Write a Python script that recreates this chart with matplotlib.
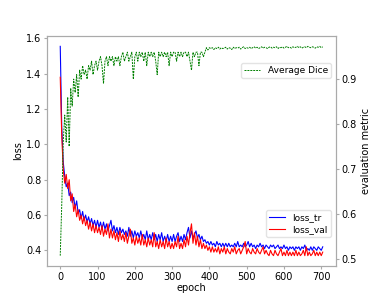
import numpy as np
import matplotlib
matplotlib.use('Agg')
import matplotlib.pyplot as plt

# values read every 4 epochs
loss_tr = [
    1.555, 1.10, 0.90, 0.82, 0.76, 0.78, 0.71, 0.73, 0.67, 0.70,
    0.64, 0.68, 0.61, 0.63, 0.58, 0.62, 0.57, 0.60, 0.56, 0.59,
    0.55, 0.58, 0.54, 0.57, 0.53, 0.57, 0.53, 0.56, 0.52, 0.56,
    0.52, 0.55, 0.51, 0.54, 0.57, 0.51, 0.54, 0.50, 0.53, 0.49,
    0.53, 0.50, 0.52, 0.49, 0.51, 0.48, 0.53, 0.48, 0.51, 0.47,
    0.51, 0.48, 0.50, 0.47, 0.51, 0.47, 0.49, 0.46, 0.51, 0.46,
    0.49, 0.46, 0.50, 0.46, 0.49, 0.45, 0.49, 0.46, 0.50, 0.45,
    0.48, 0.45, 0.49, 0.45, 0.48, 0.45, 0.49, 0.45, 0.48, 0.50,
    0.45, 0.48, 0.45, 0.49, 0.46, 0.50, 0.53, 0.47, 0.51, 0.47,
    0.49, 0.51, 0.47, 0.49, 0.46, 0.48, 0.45, 0.46, 0.44, 0.45,
    0.43, 0.45, 0.43, 0.44, 0.42, 0.45, 0.43, 0.44, 0.42, 0.44,
    0.42, 0.44, 0.42, 0.44, 0.42, 0.43, 0.42, 0.44, 0.42, 0.45,
    0.42, 0.43, 0.42, 0.44, 0.42, 0.43, 0.45, 0.42, 0.44, 0.42,
    0.43, 0.41, 0.43, 0.42, 0.44, 0.42, 0.43, 0.41, 0.43, 0.42,
    0.41, 0.43, 0.42, 0.43, 0.41, 0.42, 0.43, 0.41, 0.42, 0.41,
    0.43, 0.41, 0.42, 0.40, 0.42, 0.41, 0.42, 0.40, 0.42, 0.41,
    0.42, 0.40, 0.42, 0.41, 0.43, 0.40, 0.41, 0.40, 0.42, 0.40,
    0.42, 0.41, 0.40, 0.42, 0.41, 0.40, 0.42,
]

loss_val = [
    1.38, 1.05, 0.86, 0.78, 0.83, 0.75, 0.80, 0.68, 0.72, 0.62,
    0.66, 0.59, 0.63, 0.57, 0.60, 0.55, 0.59, 0.54, 0.57, 0.52,
    0.56, 0.51, 0.55, 0.50, 0.54, 0.50, 0.53, 0.49, 0.54, 0.48,
    0.52, 0.49, 0.55, 0.47, 0.52, 0.47, 0.51, 0.46, 0.50, 0.45,
    0.51, 0.46, 0.49, 0.45, 0.50, 0.44, 0.48, 0.52, 0.44, 0.47,
    0.43, 0.48, 0.44, 0.47, 0.43, 0.49, 0.43, 0.46, 0.42, 0.47,
    0.43, 0.46, 0.42, 0.50, 0.42, 0.45, 0.41, 0.46, 0.42, 0.45,
    0.41, 0.47, 0.42, 0.45, 0.41, 0.44, 0.41, 0.45, 0.42, 0.48,
    0.41, 0.44, 0.41, 0.46, 0.42, 0.48, 0.43, 0.50, 0.55, 0.44,
    0.50, 0.43, 0.48, 0.42, 0.46, 0.41, 0.44, 0.41, 0.43, 0.40,
    0.42, 0.39, 0.42, 0.39, 0.41, 0.39, 0.42, 0.38, 0.41, 0.39,
    0.42, 0.38, 0.41, 0.39, 0.38, 0.41, 0.39, 0.42, 0.38, 0.40,
    0.41, 0.38, 0.40, 0.42, 0.45, 0.38, 0.41, 0.39, 0.38, 0.41,
    0.39, 0.38, 0.41, 0.39, 0.38, 0.40, 0.42, 0.38, 0.40, 0.38,
    0.37, 0.40, 0.38, 0.37, 0.40, 0.38, 0.37, 0.39, 0.41, 0.37,
    0.39, 0.37, 0.40, 0.37, 0.39, 0.37, 0.39, 0.37, 0.40, 0.37,
    0.39, 0.37, 0.38, 0.40, 0.37, 0.42, 0.37, 0.39, 0.37, 0.38,
    0.40, 0.37, 0.39, 0.37, 0.39, 0.37, 0.39,
]

dice = [
    0.507, 0.62, 0.76, 0.82, 0.76, 0.86, 0.75, 0.88, 0.84, 0.90,
    0.87, 0.91, 0.86, 0.92, 0.90, 0.93, 0.91, 0.92, 0.90, 0.93,
    0.92, 0.94, 0.91, 0.93, 0.94, 0.92, 0.94, 0.95, 0.93, 0.89,
    0.94, 0.95, 0.93, 0.95, 0.94, 0.95, 0.93, 0.95, 0.94, 0.95,
    0.93, 0.95, 0.96, 0.94, 0.95, 0.96, 0.94, 0.95, 0.96, 0.90,
    0.95, 0.96, 0.94, 0.96, 0.95, 0.96, 0.94, 0.96, 0.93, 0.96,
    0.95, 0.96, 0.95, 0.96, 0.94, 0.91, 0.96, 0.95, 0.96, 0.95,
    0.96, 0.95, 0.96, 0.93, 0.96, 0.95, 0.96, 0.96, 0.94, 0.96,
    0.95, 0.96, 0.95, 0.96, 0.96, 0.95, 0.96, 0.94, 0.92, 0.96,
    0.95, 0.96, 0.96, 0.93, 0.96, 0.96, 0.95, 0.96, 0.97, 0.965,
    0.970, 0.968, 0.970, 0.966, 0.970, 0.968, 0.971, 0.967, 0.970, 0.968,
    0.969, 0.971, 0.967, 0.970, 0.969, 0.966, 0.971, 0.968, 0.970, 0.969,
    0.971, 0.967, 0.970, 0.972, 0.968, 0.970, 0.969, 0.971, 0.968, 0.970,
    0.972, 0.969, 0.971, 0.968, 0.970, 0.972, 0.969, 0.971, 0.970, 0.968,
    0.971, 0.972, 0.969, 0.971, 0.970, 0.972, 0.968, 0.971, 0.970, 0.972,
    0.969, 0.971, 0.973, 0.970, 0.971, 0.969, 0.972, 0.970, 0.971, 0.973,
    0.970, 0.972, 0.969, 0.971, 0.972, 0.970, 0.973, 0.971, 0.970, 0.972,
    0.971, 0.969, 0.972, 0.971, 0.973, 0.970, 0.972,
]

ep_tr = 4 * np.arange(len(loss_tr))
ep_val = 4 * np.arange(len(loss_val))
ep_dice = 4 * np.arange(len(dice))

plt.rcParams['font.size'] = 7
fig = plt.figure(figsize=(3.74, 2.99), dpi=100)
ax = fig.add_axes([0.126, 0.110, 0.772, 0.770])

ax.plot(ep_tr, loss_tr, color='blue', lw=0.8, label='loss_tr')
ax.plot(ep_val, loss_val, color='red', lw=0.8, label='loss_val')
ax.set_xlabel('epoch', labelpad=1)
ax.set_ylabel('loss', labelpad=2)
ax.set_xticks([0, 100, 200, 300, 400, 500, 600, 700])
ax.set_yticks([0.4, 0.6, 0.8, 1.0, 1.2, 1.4, 1.6])
ax.legend(loc='lower right', bbox_to_anchor=(0.983, 0.126), borderaxespad=0,
          fontsize=6.5, handlelength=1.8, labelspacing=0.3, borderpad=0.35,
          edgecolor='#dddddd')

ax2 = ax.twinx()
ax2.plot(ep_dice, dice, color='green', lw=0.7, ls='--', dashes=(2, 1),
         label='Average Dice')
ax2.set_ylabel('evaluation metric', labelpad=3)
ax2.set_yticks([0.5, 0.6, 0.7, 0.8, 0.9])
ax2.legend(loc='upper right', bbox_to_anchor=(0.983, 0.883), borderaxespad=0,
           fontsize=6.5, handlelength=1.8, borderpad=0.35, edgecolor='#dddddd')

for a in (ax, ax2):
    for s in a.spines.values():
        s.set_color('#aaaaaa')
    a.tick_params(length=2, color='#aaaaaa', pad=2)

fig.savefig('out.png', dpi=100)
